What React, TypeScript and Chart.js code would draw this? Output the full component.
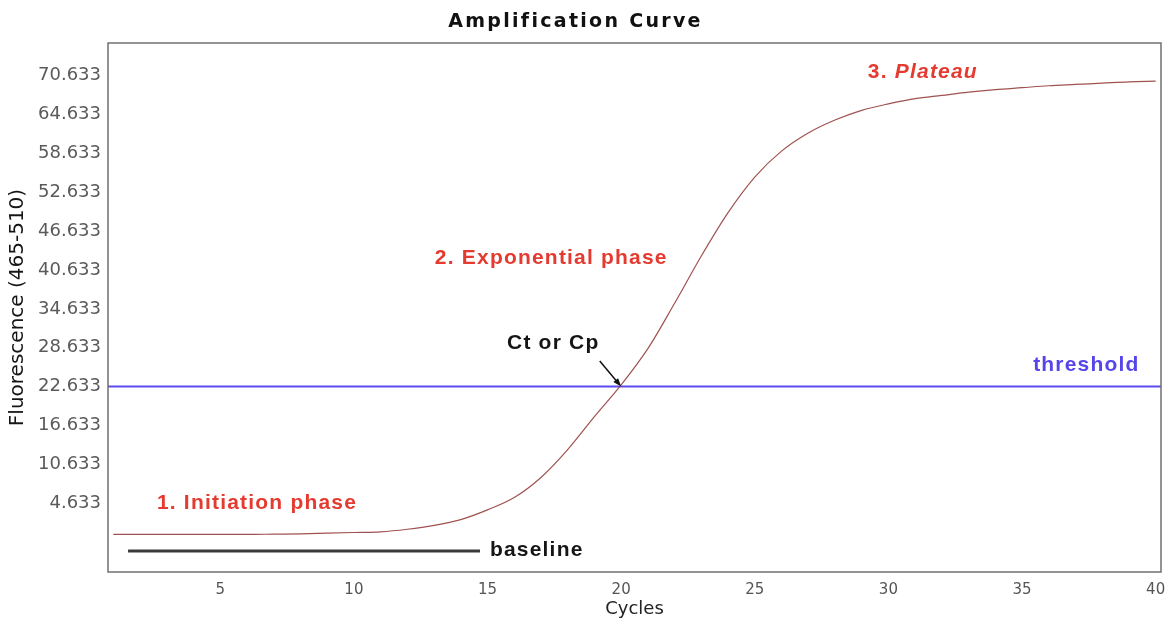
import React, { useEffect, useRef } from "react";
import { Chart, registerables } from "chart.js";

Chart.register(...registerables);

// ---- data ----
const cycles = [
  1, 2, 3, 4, 5, 6, 7, 8, 9, 10, 11, 12, 13, 14, 15, 16, 17, 18, 19, 20,
  21, 22, 23, 24, 25, 26, 27, 28, 29, 30, 31, 32, 33, 34, 35, 36, 37, 38, 39, 40,
];
const fluorescence = [
  -0.2, -0.2, -0.2, -0.2, -0.2, -0.2, -0.15, -0.1, 0.0, 0.1, 0.2, 0.6, 1.2, 2.1, 3.6, 5.5, 8.6, 12.9, 18.0, 22.9,
  28.5, 35.5, 42.8, 49.5, 55.0, 59.0, 61.8, 63.8, 65.3, 66.3, 67.1, 67.6, 68.1, 68.5, 68.8, 69.1, 69.3, 69.5, 69.7, 69.8,
];
const yTickValues = [4.633, 10.633, 16.633, 22.633, 28.633, 34.633, 40.633, 46.633, 52.633, 58.633, 64.633, 70.633];
const xTickValues = [5, 10, 15, 20, 25, 30, 35, 40];
const xMin = 0.8;
const xMax = 40.2;
const yMin = -6;
const yMax = 75.7;
const thresholdValue = 22.633;
const ctCycle = 20;
const baselineFrom = 1.55;
const baselineTo = 14.72;
const baselineLevel = -2.76;

const titleText = "Amplification Curve";
const xTitle = "Cycles";
const yTitle = "Fluorescence (465-510)";

// annotation labels (data coordinates)
const labelTexts = ["1. Initiation phase", "2. Exponential phase", "threshold", "Ct or Cp", "baseline"];
const labelX = [2.63, 13.03, 39.4, 15.73, 15.09];
const labelY = [4.6, 42.5, 25.97, 29.37, -2.6];
const labelColors = ["#e53a2f", "#e53a2f", "#5646ea", "#151515", "#151515"];
const labelAlign: CanvasTextAlign[] = ["left", "left", "right", "left", "left"];
const plateauPrefix = "3. ";
const plateauWord = "Plateau";
const plateauX = 29.23;
const plateauY = 71.2;
const arrowFrom = { x: 19.2, y: 26.6 };

const RED = "#e53a2f";
const LABEL_FONT = "bold 21px 'Liberation Sans', Arial, sans-serif";

function setSpacing(ctx: any, v: string) {
  if ("letterSpacing" in ctx) ctx.letterSpacing = v;
}

const annotationPlugin = {
  id: "annotations",
  afterDatasetsDraw(chart: any) {
    const { ctx, chartArea, scales } = chart;
    const xs = scales.x;
    const ys = scales.y;

    // frame
    ctx.save();
    ctx.strokeStyle = "#707070";
    ctx.lineWidth = 1.5;
    ctx.strokeRect(chartArea.left, chartArea.top, chartArea.right - chartArea.left, chartArea.bottom - chartArea.top);
    ctx.restore();

    // labels
    ctx.save();
    ctx.font = LABEL_FONT;
    ctx.textBaseline = "middle";
    setSpacing(ctx, "1.2px");
    labelTexts.forEach((t, i) => {
      ctx.fillStyle = labelColors[i];
      ctx.textAlign = labelAlign[i];
      ctx.fillText(t, xs.getPixelForValue(labelX[i]), ys.getPixelForValue(labelY[i]));
    });
    // plateau with italic word
    const px = xs.getPixelForValue(plateauX);
    const py = ys.getPixelForValue(plateauY);
    ctx.fillStyle = RED;
    ctx.textAlign = "left";
    ctx.fillText(plateauPrefix, px, py);
    const w = ctx.measureText(plateauPrefix).width;
    ctx.font = "italic " + LABEL_FONT;
    ctx.fillText(plateauWord, px + w, py);
    setSpacing(ctx, "0px");
    ctx.restore();

    // arrow to Ct point
    const ax = xs.getPixelForValue(arrowFrom.x);
    const ay = ys.getPixelForValue(arrowFrom.y);
    const bx = xs.getPixelForValue(ctCycle);
    const by = ys.getPixelForValue(thresholdValue);
    const ang = Math.atan2(by - ay, bx - ax);
    ctx.save();
    ctx.strokeStyle = "#111";
    ctx.fillStyle = "#111";
    ctx.lineWidth = 1.5;
    ctx.beginPath();
    ctx.moveTo(ax, ay);
    ctx.lineTo(bx - 6 * Math.cos(ang), by - 6 * Math.sin(ang));
    ctx.stroke();
    ctx.beginPath();
    ctx.moveTo(bx, by);
    ctx.lineTo(bx - 9 * Math.cos(ang - 0.35), by - 9 * Math.sin(ang - 0.35));
    ctx.lineTo(bx - 9 * Math.cos(ang + 0.35), by - 9 * Math.sin(ang + 0.35));
    ctx.closePath();
    ctx.fill();
    ctx.restore();

    // title
    ctx.save();
    ctx.font = "bold 19px 'DejaVu Sans', sans-serif";
    ctx.fillStyle = "#111";
    ctx.textAlign = "center";
    ctx.textBaseline = "alphabetic";
    setSpacing(ctx, "2.3px");
    ctx.fillText(titleText, (chartArea.left + chartArea.right) / 2 - 59, 27);
    setSpacing(ctx, "0px");
    ctx.restore();
  },
};

export default function App() {
  const ref = useRef<HTMLCanvasElement | null>(null);

  useEffect(() => {
    if (!ref.current) return;
    const chart = new Chart(ref.current, {
      type: "line",
      data: {
        datasets: [
          {
            label: "threshold",
            data: [
              { x: xMin, y: thresholdValue },
              { x: xMax, y: thresholdValue },
            ],
            borderColor: "#5b4bf0",
            borderWidth: 2,
            pointRadius: 0,
            order: 2,
          },
          {
            label: "baseline",
            data: [
              { x: baselineFrom, y: baselineLevel },
              { x: baselineTo, y: baselineLevel },
            ],
            borderColor: "#3a3a3a",
            borderWidth: 3,
            pointRadius: 0,
            order: 3,
          },
          {
            label: "Amplification",
            data: cycles.map((c, i) => ({ x: c, y: fluorescence[i] })),
            borderColor: "#a05250",
            borderWidth: 1.2,
            pointRadius: 0,
            cubicInterpolationMode: "monotone",
            order: 1,
          },
        ],
      },
      options: {
        animation: false,
        responsive: true,
        maintainAspectRatio: false,
        layout: { padding: { left: 0, right: 9, top: 43, bottom: 0 } },
        plugins: {
          legend: { display: false },
          tooltip: { enabled: false },
          title: { display: false },
        },
        scales: {
          x: {
            type: "linear",
            min: xMin,
            max: xMax,
            afterBuildTicks: (s: any) => {
              s.ticks = xTickValues.map((v) => ({ value: v }));
            },
            afterFit: (s: any) => {
              s.height = 58;
              s.paddingLeft = 0;
              s.paddingRight = 0;
            },
            grid: { display: false, drawTicks: false },
            border: { display: false },
            ticks: {
              padding: 9,
              color: "#555",
              font: { family: "'DejaVu Sans', sans-serif", size: 15 },
              maxRotation: 0,
              callback: (v: any) => String(v),
            },
            title: {
              display: true,
              text: xTitle,
              color: "#222",
              font: { family: "'DejaVu Sans', sans-serif", size: 18 },
              padding: { top: 0, bottom: 10 },
            },
          },
          y: {
            type: "linear",
            min: yMin,
            max: yMax,
            afterBuildTicks: (s: any) => {
              s.ticks = yTickValues.map((v) => ({ value: v }));
            },
            afterFit: (s: any) => {
              s.width = 108;
              s.paddingTop = 0;
              s.paddingBottom = 0;
            },
            grid: { display: false, drawTicks: false },
            border: { display: false },
            ticks: {
              padding: 7,
              color: "#5a5a5a",
              font: { family: "'DejaVu Sans', sans-serif", size: 18 },
              callback: (v: any) => Number(v).toFixed(3),
            },
            title: {
              display: true,
              text: yTitle,
              color: "#151515",
              font: { family: "'DejaVu Sans', sans-serif", size: 20 },
              padding: { top: 6, bottom: 2 },
            },
          },
        },
      },
      plugins: [annotationPlugin],
    } as any);
    return () => chart.destroy();
  }, []);

  return (
    <div style={{ position: "fixed", left: 0, top: 0, width: 1170, height: 630, background: "#fff" }}>
      <canvas ref={ref} />
    </div>
  );
}
